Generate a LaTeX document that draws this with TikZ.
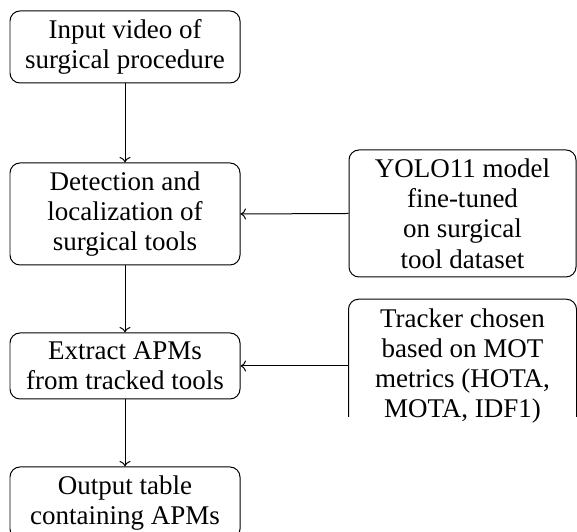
\documentclass[tikz,border=0pt]{standalone}
\usepackage{fontspec}
\setmainfont{Liberation Serif}
\usetikzlibrary{arrows.meta}

\begin{document}
\begin{tikzpicture}[
  stage/.style={draw, rounded corners=4pt, align=center, line width=0.4pt,
                inner xsep=3pt, inner ysep=2.5pt, font=\fontsize{10.8}{12.1}\selectfont},
  flow/.style={-{To[length=2.2pt,width=4.4pt]}, line width=0.4pt}
]
  \useasboundingbox (0,0) rectangle (230.8pt,-212.8pt);
  \clip (0,0) rectangle (230.8pt,-212.8pt);

  % main pipeline
  \node[stage, minimum width=92pt, minimum height=28.8pt] (input) at (50pt,-18.8pt)
    {Input video of\\surgical procedure};
  \node[stage, minimum width=92pt, minimum height=40.8pt] (detect) at (50pt,-85.6pt)
    {Detection and\\localization of\\surgical tools};
  \node[stage, minimum width=92pt, minimum height=26.4pt] (extract) at (50pt,-146.4pt)
    {Extract APMs\\from tracked tools};
  \node[stage, minimum width=92pt, minimum height=28.8pt] (output) at (50pt,-201.2pt)
    {Output table\\containing APMs};

  % side inputs
  \node[stage, minimum width=90.8pt, minimum height=50.8pt] (yolo) at (185pt,-85.4pt)
    {YOLO11 model\\fine-tuned\\on surgical\\tool dataset};
  \node[stage, draw=none, minimum width=90.8pt, minimum height=53pt] (tracker) at (185pt,-146.4pt)
    {Tracker chosen\\based on MOT\\metrics (HOTA,\\MOTA, IDF1)};
  % the tracker frame is cut off at the baseline of its last line
  \begin{scope}
    \clip (tracker.north west) ++(-1pt,1pt) rectangle ([xshift=1pt]tracker.base east |- 0,-166.8pt);
    \draw[rounded corners=4pt, line width=0.4pt] (tracker.north west) rectangle (tracker.south east);
  \end{scope}

  % connectors
  \draw[flow] (input) -- (detect);
  \draw[flow] (detect) -- (extract);
  \draw[flow] (extract) -- (output);
  \draw[flow] (yolo.west) -- (detect.east);
  \draw[flow] (tracker.west) -- (extract.east);
\end{tikzpicture}
\end{document}
